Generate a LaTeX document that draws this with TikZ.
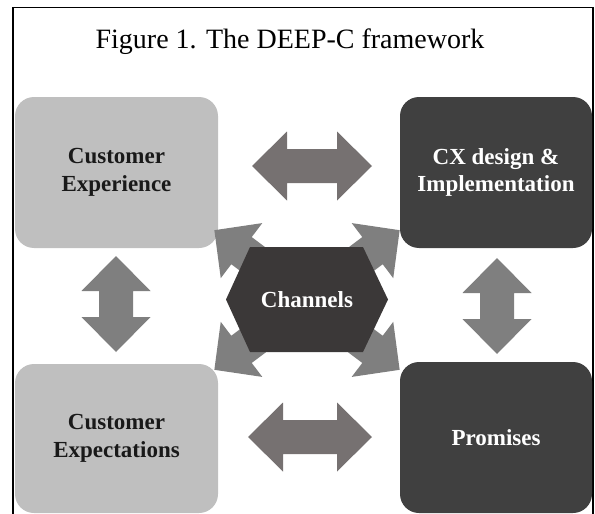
\documentclass[tikz,border=0pt]{standalone}
\usepackage{fontspec}
\setmainfont{Liberation Serif}
\definecolor{boxlight}{HTML}{BFBFBF}
\definecolor{boxdark}{HTML}{404040}
\definecolor{hexfill}{HTML}{3B3838}
\definecolor{arrowwarm}{HTML}{767171}
\definecolor{arrowgray}{HTML}{7F7F7F}
\begin{document}
\begin{tikzpicture}[x=1pt,y=-1pt,
  frameline/.style={line width=1.6pt, black},
  box/.style={rounded corners=19pt, align=center, inner sep=0pt,
    font=\fontsize{23}{27.5}\selectfont\bfseries},
  lightbox/.style={box, fill=boxlight, text=black!90},
  darkbox/.style={box, fill=boxdark, text=white},
  harrow/.style={fill=arrowwarm},
  varrow/.style={fill=arrowgray},
  darrow/.style={fill=arrowgray},
]
\useasboundingbox (0,0) rectangle (595,514);

% outer frame (open at the bottom)
\draw[frameline] (13,514) -- (13,7.5) -- (593,7.5) -- (593,514);

% title
\node[font=\fontsize{28}{33}\selectfont, anchor=base, inner sep=0pt] (title) at (290,48)
  {Figure 1. The DEEP-C framework};

% four corner boxes
\node[lightbox, minimum width=203pt, minimum height=151pt] (cx) at (116.5,172.5)
  {Customer\\Experience};
\node[darkbox, minimum width=192pt, minimum height=151pt] (design) at (496,172.5)
  {CX design \&\\Implementation};
\node[lightbox, minimum width=203pt, minimum height=149pt] (expect) at (116.5,438.5)
  {Customer\\Expectations};
\node[darkbox, minimum width=192pt, minimum height=151pt] (prom) at (496,437.5)
  {Promises};

% horizontal double arrows
\fill[harrow] (252,166) -- (287,131.5) -- (287,149) -- (337,149) -- (337,131.5)
  -- (372,166) -- (337,200.5) -- (337,183) -- (287,183) -- (287,200.5) -- cycle;
\fill[harrow] (248,437) -- (283,402.5) -- (283,420) -- (337,420) -- (337,402.5)
  -- (372,437) -- (337,471.5) -- (337,454) -- (283,454) -- (283,471.5) -- cycle;

% vertical double arrows
\fill[varrow] (116,256) -- (150.5,291) -- (133,291) -- (133,317) -- (150.5,317)
  -- (116,352) -- (81.5,317) -- (99,317) -- (99,291) -- (81.5,291) -- cycle;
\fill[varrow] (497,258) -- (531.5,293) -- (514,293) -- (514,319) -- (531.5,319)
  -- (497,354) -- (462.5,319) -- (480,319) -- (480,293) -- (462.5,293) -- cycle;

% diagonal arrows leaving the central hexagon
\foreach \ang in {37,143,217,323}{
  \begin{scope}[shift={(307,300)}, rotate=\ang]
    \fill[darrow] (0,17) -- (82,17) -- (82,34.5) -- (116,0) -- (82,-34.5)
      -- (82,-17) -- (0,-17) -- cycle;
  \end{scope}
}

% central hexagon
\fill[hexfill] (226,299.5) -- (250,247) -- (363,247) -- (388,299.5) -- (363,352)
  -- (250,352) -- cycle;
\node[font=\fontsize{23}{28}\selectfont\bfseries, text=white] (chan) at (307,299.5) {Channels};
\end{tikzpicture}
\end{document}
